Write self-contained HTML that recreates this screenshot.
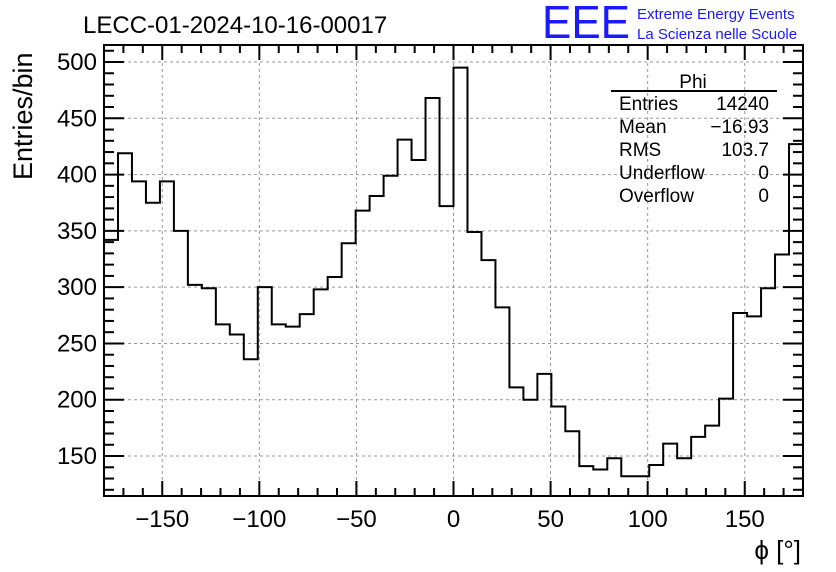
<!DOCTYPE html>
<html><head><meta charset="utf-8"><style>
body{margin:0;background:#fff;}
svg{display:block;font-family:"Liberation Sans",sans-serif;}
</style></head><body>
<svg id="c" width="836" height="572" viewBox="0 0 836 572">
<text x="83" y="33" font-size="24">LECC-01-2024-10-16-00017</text>
<text x="542" y="38" font-size="46" font-weight="normal" fill="#1a1aff" textLength="88" lengthAdjust="spacingAndGlyphs">EEE</text>
<text x="637" y="19" font-size="15" fill="#1a1aff">Extreme Energy Events</text>
<text x="637" y="39" font-size="15" fill="#1a1aff">La Scienza nelle Scuole</text>
<text transform="translate(32,180) rotate(-90)" font-size="27">Entries/bin</text>
<text x="801" y="559" font-size="26" text-anchor="end">ϕ [°]</text>
<g id="grid"></g>
<g id="ticks"></g>
<path id="hist" fill="none" stroke="#000" stroke-width="2"/>
<rect x="104" y="45" width="699" height="451" fill="none" stroke="#000" stroke-width="2"/>
<g font-size="19">
<text x="693" y="88" text-anchor="middle">Phi</text>
<line x1="611" y1="91" x2="777" y2="91" stroke="#000" stroke-width="2"/>
<text x="619" y="110">Entries</text><text x="769" y="110" text-anchor="end">14240</text>
<text x="619" y="133">Mean</text><text x="769" y="133" text-anchor="end">−16.93</text>
<text x="619" y="156">RMS</text><text x="769" y="156" text-anchor="end">103.7</text>
<text x="619" y="179">Underflow</text><text x="769" y="179" text-anchor="end">0</text>
<text x="619" y="202">Overflow</text><text x="769" y="202" text-anchor="end">0</text>
</g>
</svg>
<script>
const binEdges = [-180, 180];
const counts = [342,419,394,375,394,350,302,299,267,258,236,300,267,265,276,298,309,339,368,381,399,431,413,468,372,495,349,324,282,211,200,223,194,172,141,138,148,132,132,142,161,148,167,177,201,277,274,299,329,427];
const xTicks = [-150,-100,-50,0,50,100,150];
const yTicks = [150,200,250,300,350,400,450,500];
const NS='http://www.w3.org/2000/svg';
const L=104,R=803,T=45,B=496,YMIN=114.5,YMAX=515.1;
const sx=v=>L+(v-binEdges[0])/(binEdges[1]-binEdges[0])*(R-L);
const sy=v=>B-(v-YMIN)/(YMAX-YMIN)*(B-T);
const svg=document.getElementById('c');
const grid=document.getElementById('grid'),tk=document.getElementById('ticks');
function ln(p,x1,y1,x2,y2,st,w,dash){const e=document.createElementNS(NS,'line');e.setAttribute('x1',x1);e.setAttribute('y1',y1);e.setAttribute('x2',x2);e.setAttribute('y2',y2);e.setAttribute('stroke',st);e.setAttribute('stroke-width',w);if(dash)e.setAttribute('stroke-dasharray',dash);p.appendChild(e);return e;}
function tx(x,y,s,anchor,name){const e=document.createElementNS(NS,'text');e.setAttribute('x',x);e.setAttribute('y',y);e.setAttribute('font-size','24');e.setAttribute('text-anchor',anchor);e.textContent=s;


svg.appendChild(e);}
xTicks.forEach(v=>{const x=sx(v);
const g=ln(grid,x,T,x,B,'#999',1,'3,3');


ln(tk,x,B,x,B-15,'#000',2);ln(tk,x,T,x,T+15,'#000',2);
tx(x,527,v<0?'−'+(-v):String(v),'middle','x-tick-label');});
for(let v=-170;v<=170;v+=10){if(v%50===0)continue;const x=sx(v);ln(tk,x,B,x,B-8,'#000',2);ln(tk,x,T,x,T+8,'#000',2);}
yTicks.forEach(v=>{const y=sy(v);
const g=ln(grid,L,y,R,y,'#999',1,'3,3');


ln(tk,L,y,L+20,y,'#000',2);ln(tk,R,y,R-20,y,'#000',2);
tx(97,y+8,String(v),'end','y-tick-label');});
for(let v=120;v<=510;v+=10){if(v%50===0)continue;const y=sy(v);ln(tk,L,y,L+10,y,'#000',2);ln(tk,R,y,R-10,y,'#000',2);}
const n=counts.length,w=(binEdges[1]-binEdges[0])/n;
let d='M'+sx(binEdges[0])+','+B;
counts.forEach((c,i)=>{const y=sy(c);d+=' L'+sx(binEdges[0]+i*w)+','+y+' L'+sx(binEdges[0]+(i+1)*w)+','+y;});
d+=' L'+sx(binEdges[1])+','+B;
document.getElementById('hist').setAttribute('d',d);
</script>
</body></html>
